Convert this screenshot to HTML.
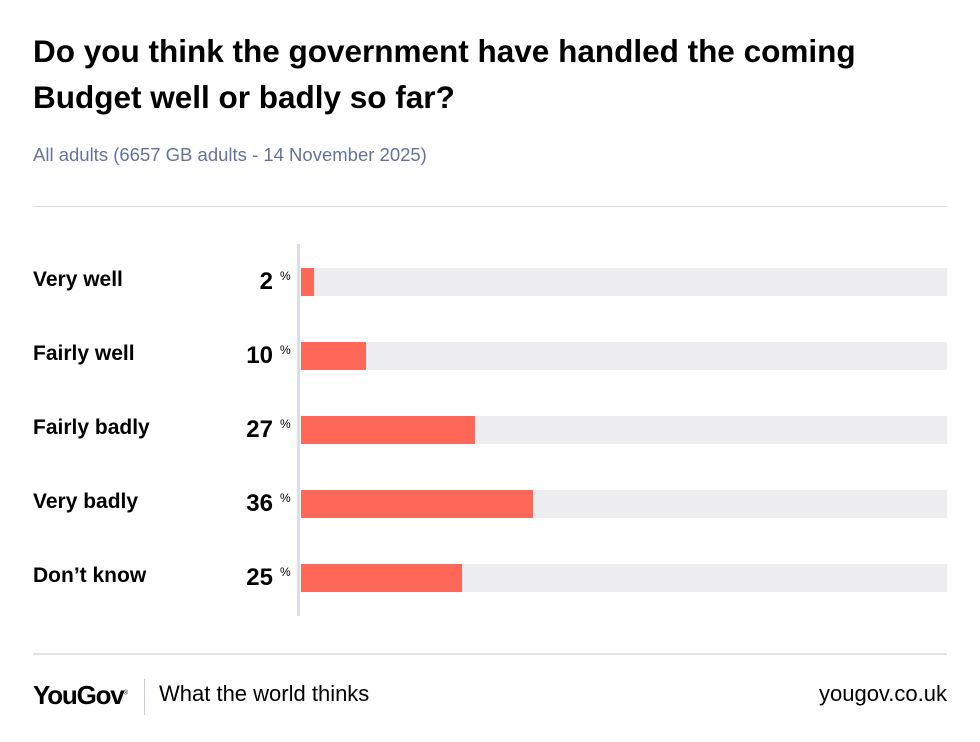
<!DOCTYPE html>
<html><head><style>
body{margin:0;width:980px;height:742px;background:#fff;font-family:"Liberation Sans",sans-serif;position:relative;overflow:hidden;color:#000}
.a{position:absolute}
h1{position:absolute;left:33px;top:28px;margin:0;font-size:31.5px;line-height:46px;font-weight:bold;letter-spacing:0;width:940px;white-space:nowrap}
.lab{position:absolute;left:33px;font-size:21px;font-weight:bold;line-height:28px}
.val{position:absolute;right:707px;font-size:24px;font-weight:bold;line-height:28px;text-align:right}
.pct{position:absolute;left:280px;font-size:12px;line-height:14px}
.tr{position:absolute;left:301px;width:646px;height:28px;background:#ededf0}
.b{position:absolute;left:0;top:0;height:28px;background:#ff6759}
</style></head><body>
<h1>Do you think the government have handled the coming<br>Budget well or badly so far?</h1>
<div class="a" style="left:33px;top:144px;font-size:18.5px;color:#66739a">All adults (6657 GB adults - 14 November 2025)</div>
<div class="a" style="left:33px;top:206px;width:914px;height:1px;background:#dcdde3"></div>
<div class="a" style="left:297px;top:244px;width:3px;height:372px;background:#dcdde8"></div>

<div class="lab" style="top:266px">Very well</div><div class="val" style="top:268px">2</div><div class="pct" style="top:269px">%</div>
<div class="tr" style="top:268px"><div class="b" style="width:13px"></div></div>

<div class="lab" style="top:340px">Fairly well</div><div class="val" style="top:342px">10</div><div class="pct" style="top:343px">%</div>
<div class="tr" style="top:342px"><div class="b" style="width:65px"></div></div>

<div class="lab" style="top:414px">Fairly badly</div><div class="val" style="top:416px">27</div><div class="pct" style="top:417px">%</div>
<div class="tr" style="top:416px"><div class="b" style="width:174px"></div></div>

<div class="lab" style="top:488px">Very badly</div><div class="val" style="top:490px">36</div><div class="pct" style="top:491px">%</div>
<div class="tr" style="top:490px"><div class="b" style="width:232px"></div></div>

<div class="lab" style="top:562px">Don’t know</div><div class="val" style="top:564px">25</div><div class="pct" style="top:565px">%</div>
<div class="tr" style="top:564px"><div class="b" style="width:161px"></div></div>

<div class="a" style="left:33px;top:653px;width:914px;height:2px;background:#e3e4e9"></div>
<div class="a" style="left:33px;top:680px;font-size:26px;font-weight:bold;letter-spacing:-1.2px">YouGov<sup style="font-size:6px;font-weight:normal">®</sup></div>
<div class="a" style="left:144px;top:679px;width:1px;height:36px;background:#ccd"></div>
<div class="a" style="left:159px;top:681px;font-size:22px">What the world thinks</div>
<div class="a" style="right:33px;top:681px;font-size:22px">yougov.co.uk</div>
</body></html>
